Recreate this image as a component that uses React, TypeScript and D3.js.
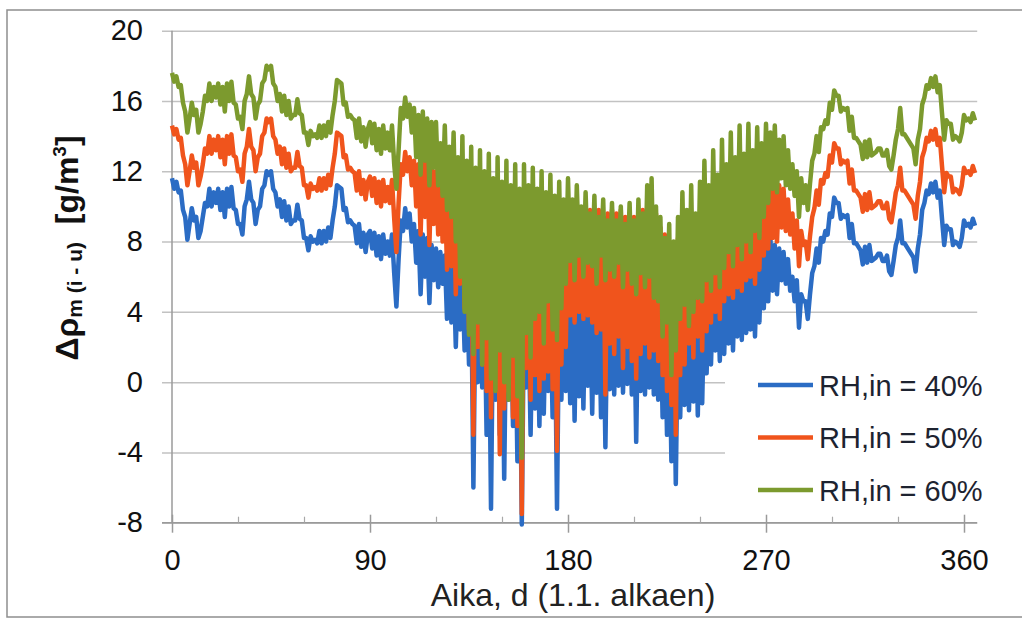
import { useRef, useEffect } from "react";
import * as d3 from "d3";

// Δρ (sisä - ulko) päivittäin, päivät 0..365
const rh40 = [
  11.6, 11.0, 11.4, 10.8, 10.9, 9.8, 9.4, 8.1, 9.0, 9.9,
  9.2, 9.4, 8.2, 8.6, 9.4, 10.2, 10.0, 11.0, 10.0, 10.8,
  10.2, 11.0, 9.8, 10.8, 9.4, 11.0, 10.0, 11.1, 9.9, 9.8,
  9.0, 9.0, 8.4, 10.0, 10.4, 11.4, 10.4, 10.2, 9.0, 9.8,
  10.0, 11.0, 11.2, 12.0, 11.8, 12.0, 11.0, 10.8, 10.0, 10.4,
  9.4, 10.3, 9.2, 10.0, 9.0, 9.2, 9.2, 10.1, 9.3, 9.2,
  8.2, 8.2, 7.5, 8.3, 8.0, 8.1, 7.9, 8.6, 7.9, 8.6,
  8.0, 8.8, 8.2, 9.2, 10.0, 11.2, 11.1, 11.0, 9.8, 9.9,
  9.1, 9.2, 9.0, 8.9, 7.9, 9.0, 7.7, 8.5, 7.4, 8.4,
  8.6, 7.6, 8.5, 7.2, 8.3, 7.0, 8.4, 7.3, 8.0, 7.2,
  8.4, 6.2, 4.3, 7.0, 9.2, 8.6, 9.9, 8.8, 9.6, 8.0,
  9.0, 6.8, 8.6, 5.0, 8.4, 6.0, 8.2, 4.5, 7.8, 5.8,
  7.6, 5.4, 7.4, 5.6, 7.2, 3.6, 7.0, 3.4, 6.6, 2.0,
  6.4, 3.0, 6.0, 1.8, 5.8, 1.0, 5.6, -6.0, 5.4, 0.0,
  5.2, -0.3, 5.0, -3.0, 4.8, -7.2, 4.8, -1.0, 4.6, -3.0,
  4.4, -5.5, 4.6, -1.0, 4.4, -2.5, 4.2, -4.5, 4.0, -8.1,
  4.2, -0.3, 4.0, -3.0, 4.2, -1.5, 4.4, -2.5, 4.2, -1.8,
  4.4, -0.5, 4.2, -2.0, 4.4, -7.2, 4.6, -1.0, 5.0, -0.5,
  5.2, -1.2, 5.4, -2.2, 5.0, -0.8, 5.2, -1.5, 5.4, -0.2,
  5.2, -1.8, 5.0, -0.6, 5.2, -2.0, 4.8, -3.7, 5.0, -0.4,
  5.2, -0.7, 5.0, -0.2, 5.2, -0.6, 4.8, -0.1, 5.0, -0.7,
  4.8, -3.4, 5.0, -0.5, 5.2, -0.7, 5.0, -0.3, 5.4, -0.7,
  5.0, -1.0, 4.2, -2.0, 3.8, -3.0, 3.4, -4.5, 3.2, -5.8,
  3.6, -2.0, 4.0, -1.3, 4.2, -1.6, 4.4, -1.1, 4.6, -1.9,
  4.8, -1.2, 5.0, 0.5, 5.2, 1.0, 5.4, 1.8, 5.6, 1.2,
  5.8, 1.6, 6.0, 2.2, 6.2, 1.8, 6.4, 2.6, 6.6, 2.4,
  6.8, 2.8, 6.9, 3.0, 7.0, 2.6, 7.2, 3.4, 7.6, 4.2,
  8.0, 4.6, 8.2, 5.2, 7.8, 5.0, 7.6, 5.8, 7.4, 5.6,
  7.0, 5.2, 6.0, 4.6, 5.8, 3.1, 5.0, 4.6, 4.6, 3.6,
  5.0, 6.2, 6.6, 7.6, 6.8, 8.2, 8.0, 8.6, 8.4, 9.6,
  9.4, 10.5, 10.2, 10.2, 9.3, 9.5, 9.4, 9.5, 8.2, 9.0,
  7.9, 7.9, 7.7, 7.5, 6.7, 7.7, 6.8, 7.8, 6.9, 7.0,
  7.1, 7.3, 7.3, 6.9, 6.9, 7.2, 6.3, 6.1, 6.9, 7.8,
  8.2, 9.2, 7.9, 7.9, 7.7, 7.5, 7.3, 7.1, 6.3, 7.6,
  8.4, 9.8, 10.2, 10.9, 10.7, 11.3, 10.8, 11.4, 10.5, 10.9,
  9.3, 7.8, 8.9, 8.7, 8.7, 7.8, 8.0, 7.9, 7.7, 8.2,
  9.2, 8.9, 9.0, 8.8, 9.3, 8.9,
];

const rh50 = [
  14.6, 14.1, 14.4, 13.8, 13.9, 12.9, 12.4, 11.2, 12.0, 12.9,
  12.2, 12.5, 11.2, 11.7, 12.4, 13.3, 13.0, 14.0, 13.0, 13.8,
  13.2, 14.0, 12.8, 13.8, 12.4, 14.0, 13.0, 14.1, 12.9, 12.8,
  12.0, 12.1, 11.4, 13.0, 13.4, 14.4, 13.4, 13.2, 12.0, 12.8,
  13.0, 14.0, 14.2, 15.0, 14.8, 15.0, 14.0, 13.8, 13.0, 13.4,
  12.4, 13.3, 12.2, 13.0, 12.0, 12.2, 12.2, 13.1, 12.3, 12.2,
  11.2, 11.2, 10.5, 11.3, 11.0, 11.1, 10.9, 11.6, 10.9, 11.6,
  11.0, 11.8, 11.2, 12.2, 13.0, 14.2, 14.1, 14.0, 12.8, 12.9,
  12.1, 12.2, 12.0, 11.9, 10.9, 12.0, 10.7, 11.5, 10.4, 11.4,
  11.7, 10.6, 11.6, 10.2, 11.4, 10.0, 11.5, 10.3, 11.1, 10.2,
  11.5, 9.3, 7.4, 10.2, 12.4, 11.8, 13.1, 12.0, 12.8, 11.2,
  12.6, 10.0, 12.4, 8.4, 12.6, 9.4, 12.8, 7.8, 12.4, 9.0,
  12.0, 8.4, 11.8, 8.0, 11.6, 6.4, 11.4, 6.6, 11.2, 5.0,
  11.0, 5.6, 10.6, 4.2, 10.4, 3.0, 10.2, -3.0, 10.0, 2.0,
  9.8, 1.0, 9.6, -0.5, 9.4, -2.0, 9.4, 0.5, 9.2, -4.1,
  9.0, -1.5, 9.2, -0.5, 9.0, -2.0, 8.8, -2.5, 8.8, -7.5,
  8.8, 0.8, 8.6, -1.0, 8.8, 0.4, 9.0, -0.5, 8.8, 0.2,
  9.0, 0.6, 8.8, -0.4, 9.0, -3.9, 9.2, 1.0, 9.4, 2.0,
  9.6, 3.8, 9.8, 3.4, 9.6, 4.0, 9.8, 3.6, 10.0, 3.8,
  9.8, 3.4, 9.6, 2.8, 9.8, 3.0, 9.4, -0.7, 9.6, 2.2,
  9.8, 1.6, 9.6, 2.6, 9.8, 0.8, 9.4, 2.0, 9.6, 1.2,
  9.4, 0.2, 9.6, 1.6, 9.8, 2.2, 9.6, 1.4, 10.0, 1.8,
  9.6, 1.2, 8.8, 0.4, 8.4, -0.5, 8.0, -1.3, 7.8, -3.0,
  8.2, 0.4, 8.6, 1.0, 8.8, 2.2, 9.0, 1.4, 9.2, 2.6,
  9.4, 1.8, 9.8, 2.9, 10.0, 3.4, 10.2, 4.0, 10.4, 3.6,
  10.6, 4.6, 10.8, 5.0, 11.0, 4.8, 11.2, 5.4, 11.0, 5.2,
  11.2, 5.8, 11.4, 6.0, 11.2, 5.6, 11.6, 6.4, 11.8, 7.2,
  11.8, 7.6, 11.6, 8.2, 11.4, 8.0, 11.2, 8.8, 11.0, 8.6,
  10.4, 8.4, 9.6, 7.6, 9.2, 6.6, 8.6, 7.8, 8.0, 7.0,
  8.3, 9.4, 9.9, 10.9, 10.1, 11.5, 11.3, 11.9, 11.7, 12.9,
  12.5, 13.6, 13.3, 13.3, 12.4, 12.6, 12.5, 12.6, 11.3, 12.1,
  10.9, 10.9, 10.7, 10.5, 9.7, 10.7, 9.8, 10.8, 9.9, 10.0,
  10.1, 10.3, 10.3, 9.9, 9.9, 10.2, 9.3, 9.1, 9.9, 10.8,
  11.2, 12.2, 10.9, 10.9, 10.7, 10.5, 10.3, 10.1, 9.3, 10.6,
  11.4, 12.8, 13.2, 13.9, 13.7, 14.3, 13.8, 14.4, 13.5, 13.9,
  12.3, 10.8, 11.9, 11.7, 11.7, 10.8, 11.0, 10.9, 10.7, 11.2,
  12.2, 11.9, 12.0, 11.8, 12.3, 11.9,
];

const rh60 = [
  17.6, 17.1, 17.4, 16.8, 16.9, 15.9, 15.4, 14.2, 15.0, 15.9,
  15.2, 15.5, 14.2, 14.7, 15.4, 16.3, 16.0, 17.0, 16.0, 16.8,
  16.2, 17.0, 15.8, 16.8, 15.4, 17.0, 16.0, 17.1, 15.9, 15.8,
  15.0, 15.1, 14.4, 16.0, 16.4, 17.4, 16.4, 16.2, 15.0, 15.8,
  16.0, 17.0, 17.2, 18.0, 17.8, 18.0, 17.0, 16.8, 16.0, 16.4,
  15.4, 16.3, 15.2, 16.0, 15.0, 15.2, 15.2, 16.1, 15.3, 15.2,
  14.2, 14.2, 13.5, 14.3, 14.0, 14.1, 13.9, 14.6, 13.9, 14.6,
  14.0, 14.8, 14.2, 15.2, 16.0, 17.2, 17.1, 17.0, 15.8, 15.9,
  15.1, 15.2, 15.0, 14.9, 13.9, 15.0, 13.7, 14.5, 13.4, 14.4,
  14.8, 13.6, 14.7, 13.2, 14.4, 13.0, 14.6, 13.3, 14.2, 13.2,
  14.6, 12.4, 11.0, 13.2, 15.6, 15.0, 16.2, 15.1, 15.8, 14.2,
  15.6, 12.8, 15.2, 11.8, 15.4, 12.6, 15.0, 11.2, 14.8, 12.2,
  14.8, 11.2, 13.6, 10.6, 14.6, 9.8, 13.4, 9.4, 14.2, 8.0,
  12.8, 6.0, 14.0, 4.0, 12.6, 2.7, 13.4, 1.6, 12.2, 3.4,
  13.2, 1.0, 12.0, 2.5, 13.0, 0.2, 11.6, -0.5, 12.8, 1.8,
  11.4, 0.0, 12.6, -1.0, 11.2, 1.5, 12.4, -0.8, 11.0, -4.3,
  12.4, 2.8, 11.2, 1.4, 12.2, 3.6, 11.0, 4.0, 12.0, 2.2,
  10.8, 4.6, 11.8, 3.0, 10.6, 2.4, 11.4, 4.2, 10.4, 5.6,
  11.6, 6.9, 10.4, 5.8, 11.2, 7.2, 10.0, 6.0, 10.8, 6.8,
  9.6, 6.6, 10.6, 5.6, 9.4, 7.2, 10.4, 5.8, 9.2, 6.4,
  10.2, 6.0, 9.2, 6.8, 10.0, 5.4, 9.0, 6.4, 10.2, 5.6,
  9.2, 5.0, 10.4, 6.2, 9.6, 5.4, 11.2, 6.0, 11.6, 4.8,
  10.0, 4.6, 9.4, 2.6, 8.2, 3.4, 9.0, 0.4, 8.0, 1.8,
  9.4, 3.6, 10.8, 4.4, 9.8, 3.2, 11.2, 4.0, 9.6, 4.8,
  11.4, 4.6, 12.6, 5.8, 11.2, 5.2, 13.2, 6.2, 11.8, 5.4,
  13.8, 6.5, 12.4, 7.4, 14.2, 6.6, 12.8, 7.8, 14.6, 7.0,
  13.0, 8.0, 14.7, 7.4, 13.2, 8.6, 14.5, 8.2, 13.6, 9.4,
  14.7, 10.2, 14.2, 11.0, 14.6, 10.8, 13.8, 11.6, 14.0, 11.2,
  13.2, 11.0, 12.4, 10.6, 12.0, 9.4, 11.6, 10.2, 11.2, 9.8,
  11.3, 12.6, 13.0, 14.0, 13.1, 14.5, 14.4, 14.9, 14.7, 15.9,
  15.5, 16.6, 16.3, 16.3, 15.4, 15.6, 15.5, 15.6, 14.3, 15.1,
  13.9, 13.9, 13.7, 13.5, 12.7, 13.7, 12.8, 13.8, 12.9, 13.0,
  13.1, 13.3, 13.3, 12.9, 12.9, 13.2, 12.3, 12.1, 12.9, 13.8,
  14.4, 15.6, 14.1, 14.1, 13.9, 13.7, 13.5, 13.3, 12.4, 13.8,
  14.4, 15.8, 16.2, 16.9, 16.7, 17.3, 16.8, 17.4, 16.5, 16.9,
  15.3, 13.8, 14.9, 14.7, 14.7, 13.8, 14.0, 13.9, 13.7, 14.2,
  15.2, 14.9, 15.0, 14.8, 15.3, 14.9,
];

const seriesNames = ["RH,in = 40%", "RH,in = 50%", "RH,in = 60%"];
const seriesColors = ["#2b6cc4", "#f0541c", "#7c9a2e"];
const xTicks = [0, 90, 180, 270, 360];
const xMinorTicks = [30, 60, 120, 150, 210, 240, 300, 330];
const yTicks = [-8, -4, 0, 4, 8, 12, 16, 20];

const App = () => {
  const svgRef = useRef<SVGSVGElement>(null);

  useEffect(() => {
    draw();
  }, []);

  const draw = () => {
    const width = 1022;
    const height = 618;
    const font = "'Liberation Sans', Arial, sans-serif";
    const svg = d3.select(svgRef.current)
      .attr("width", width).attr("height", height)
      .style("font-family", font);

    svg.selectAll("*").remove();

    // kehys
    svg.append("rect")
      .attr("x", 7).attr("y", 10).attr("width", 1030).attr("height", 607)
      .attr("fill", "#fff").attr("stroke", "#8e8e8e").attr("stroke-width", 1.5);

    const x = d3.scaleLinear().domain([0, 360]).range([172, 964]);
    const y = d3.scaleLinear().domain([-8, 20]).range([522.7, 30.7]);
    const xEnd = x(366);

    // vaakaviivat + y-tikit
    svg.append("g")
      .attr("transform", `translate(162,0)`)
      .call(d3.axisRight(y).tickValues(yTicks).tickSize(xEnd - 162).tickFormat(() => ""))
      .call(g => g.select(".domain").remove())
      .call(g => g.selectAll(".tick line").attr("stroke", "#c2c2c2").attr("stroke-width", 1.5));

    // y-akselin tekstit (tavallinen miinus)
    svg.append("g")
      .attr("transform", `translate(${x(0)},0)`)
      .call(d3.axisLeft(y).tickValues(yTicks).tickSize(0).tickPadding(29).tickFormat(d => String(d)))
      .call(g => g.select(".domain").remove())
      .selectAll("text")
        .attr("fill", "#111")
        .style("font-size", "29px")
        .style("font-family", font);

    // pystyakseli
    svg.append("line")
      .attr("x1", x(0)).attr("x2", x(0))
      .attr("y1", y(20)).attr("y2", y(-8))
      .attr("stroke", "#9a9a9a").attr("stroke-width", 1.5);

    // x-akseli
    svg.append("g")
      .attr("transform", `translate(0,${y(-8)})`)
      .call(d3.axisBottom(x).tickValues(xTicks).tickSize(10).tickPadding(17).tickSizeOuter(0).tickFormat(d => String(d)))
      .call(g => g.select(".domain").attr("d", `M162,0H${xEnd}`).attr("stroke", "#9a9a9a").attr("stroke-width", 1.5))
      .call(g => g.selectAll(".tick line").attr("stroke", "#9a9a9a").attr("stroke-width", 1.5))
      .selectAll("text")
        .attr("fill", "#111")
        .style("font-size", "29px")
        .style("font-family", font);

    svg.append("g")
      .attr("transform", `translate(0,${y(-8)})`)
      .call(d3.axisTop(x).tickValues(xTicks).tickSize(8).tickFormat(() => ""))
      .call(g => g.select(".domain").remove())
      .call(g => g.selectAll(".tick line").attr("stroke", "#9a9a9a").attr("stroke-width", 1.5));

    svg.append("g")
      .attr("transform", `translate(0,${y(-8)})`)
      .call(d3.axisTop(x).tickValues(xMinorTicks).tickSize(6).tickFormat(() => ""))
      .call(g => g.select(".domain").remove())
      .call(g => g.selectAll(".tick line").attr("stroke", "#a8a8a8").attr("stroke-width", 1.2));

    // sarjat
    const line = d3.line<number>().x((d, i) => x(i)).y(d => y(d));
    [rh40, rh50, rh60].forEach((values, i) => {
      svg.append("path")
        .datum(values)
        .attr("d", line)
        .attr("fill", "none")
        .attr("stroke", seriesColors[i])
        .attr("stroke-width", 4.5)
        .attr("stroke-linejoin", "round");
    });

    // selite
    svg.append("rect")
      .attr("x", 725).attr("y", 362).attr("width", xEnd - 725 + 2).attr("height", 150)
      .attr("fill", "#fff");
    seriesNames.forEach((name, i) => {
      const ly = 385 + i * 52.5;
      svg.append("line")
        .attr("x1", 758).attr("x2", 813).attr("y1", ly).attr("y2", ly)
        .attr("stroke", seriesColors[i]).attr("stroke-width", 4.5);
      svg.append("text")
        .attr("x", 819).attr("y", ly + 10.5)
        .attr("fill", "#1d2330")
        .style("font-size", "29px")
        .text(name);
    });

    // akselien otsikot
    svg.append("text")
      .attr("x", 573).attr("y", 606)
      .attr("text-anchor", "middle")
      .attr("fill", "#222")
      .style("font-size", "32px")
      .text("Aika, d (1.1. alkaen)");

    const yt = svg.append("text")
      .attr("transform", "translate(78,248) rotate(-90)")
      .attr("text-anchor", "middle")
      .attr("fill", "#111")
      .attr("font-weight", "bold")
      .style("font-size", "32px")
      .style("white-space", "pre");
    yt.append("tspan").text("Δρ");
    yt.append("tspan").attr("dy", 4).style("font-size", "21px").text("m (i - u)");
    yt.append("tspan").attr("dy", -4).text("  [g/m");
    yt.append("tspan").attr("dy", -12).style("font-size", "19px").text("3");
    yt.append("tspan").attr("dy", 12).text("]");
  };

  return <svg ref={svgRef} style={{ position: "absolute", left: 0, top: 0 }}></svg>;
};

export default App;
